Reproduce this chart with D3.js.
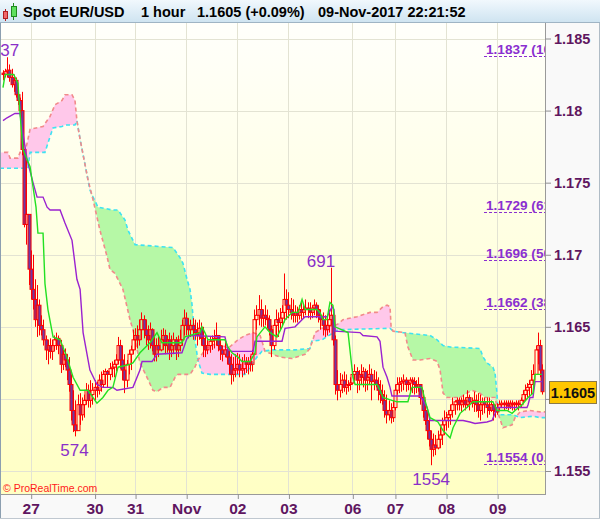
<!DOCTYPE html>
<html><head><meta charset="utf-8">
<script src="https://cdn.jsdelivr.net/npm/d3@7"></script>
<style>body{margin:0;background:#fff}svg{display:block}text{font-family:"Liberation Sans",Arial,sans-serif}</style>
</head><body><svg id="c" width="600" height="519"></svg>
<script>
// ---------- DATA ----------
const titleParts = ["Spot EUR/USD","1 hour","1.1605 (+0.09%)","09-Nov-2017 22:21:52"];
const dayTicks  = [13,43,62,86,110,134,164,184,208,232];
const dayLabels = ["27","30","31","Nov","02","03","06","07","08","09"];
const priceTicks = [1.155,1.16,1.165,1.17,1.175,1.18,1.185];
const priceTickLabels = ["1.155","1.16","1.165","1.17","1.175","1.18","1.185"];
const firstOpen = 1.1826;
const high = [1.1828,1.1829,1.1837,1.1832,1.1829,1.1825,1.1823,1.1816,1.1809,1.1813,
1.1773,1.1766,1.1728,1.1703,1.1700,1.1683,1.1679,1.1669,1.1658,1.1655,
1.1644,1.1641,1.1642,1.1641,1.1644,1.1646,1.1644,1.1641,1.1634,1.1635,
1.1631,1.1629,1.1617,1.1606,1.1599,1.1603,1.1604,1.1601,1.1603,1.1611,
1.1610,1.1613,1.1611,1.1613,1.1612,1.1617,1.1619,1.1620,1.1621,1.1620,
1.1625,1.1626,1.1627,1.1631,1.1643,1.1641,1.1637,1.1631,1.1627,1.1634,
1.1637,1.1648,1.1649,1.1651,1.1655,1.1660,1.1658,1.1655,1.1651,1.1653,
1.1649,1.1644,1.1642,1.1644,1.1648,1.1649,1.1648,1.1644,1.1646,1.1644,
1.1646,1.1643,1.1644,1.1648,1.1655,1.1662,1.1660,1.1656,1.1655,1.1656,
1.1655,1.1653,1.1655,1.1653,1.1650,1.1644,1.1641,1.1643,1.1644,1.1648,
1.1653,1.1644,1.1641,1.1637,1.1641,1.1637,1.1634,1.1631,1.1629,1.1631,
1.1632,1.1631,1.1629,1.1631,1.1629,1.1629,1.1630,1.1634,1.1662,1.1665,
1.1672,1.1669,1.1662,1.1665,1.1662,1.1658,1.1651,1.1655,1.1662,1.1660,
1.1663,1.1665,1.1687,1.1676,1.1674,1.1670,1.1669,1.1665,1.1664,1.1665,
1.1667,1.1665,1.1669,1.1667,1.1667,1.1665,1.1669,1.1667,1.1665,1.1662,
1.1660,1.1658,1.1656,1.1662,1.1691,1.1662,1.1644,1.1620,1.1618,1.1617,
1.1619,1.1617,1.1613,1.1615,1.1621,1.1624,1.1622,1.1620,1.1624,1.1622,
1.1621,1.1620,1.1624,1.1621,1.1620,1.1619,1.1615,1.1613,1.1610,1.1606,
1.1603,1.1599,1.1597,1.1599,1.1610,1.1615,1.1615,1.1615,1.1617,1.1615,
1.1613,1.1615,1.1615,1.1615,1.1613,1.1615,1.1610,1.1606,1.1599,1.1592,
1.1587,1.1578,1.1576,1.1575,1.1578,1.1582,1.1587,1.1592,1.1591,1.1592,
1.1596,1.1601,1.1599,1.1601,1.1601,1.1601,1.1603,1.1601,1.1606,1.1603,
1.1601,1.1605,1.1603,1.1604,1.1603,1.1601,1.1601,1.1601,1.1601,1.1599,
1.1597,1.1596,1.1597,1.1599,1.1599,1.1599,1.1599,1.1599,1.1599,1.1599,
1.1598,1.1599,1.1599,1.1601,1.1606,1.1610,1.1611,1.1613,1.1620,1.1624,
1.1637,1.1646,1.1641,1.1624];
const low = [1.1821,1.1823,1.1823,1.1820,1.1816,1.1813,1.1809,1.1804,1.1797,1.1769,
1.1719,1.1707,1.1679,1.1669,1.1662,1.1650,1.1643,1.1644,1.1644,1.1637,
1.1627,1.1624,1.1628,1.1627,1.1633,1.1634,1.1631,1.1618,1.1620,1.1622,
1.1613,1.1605,1.1585,1.1577,1.1574,1.1580,1.1582,1.1585,1.1587,1.1596,
1.1594,1.1594,1.1596,1.1599,1.1601,1.1603,1.1605,1.1608,1.1610,1.1608,
1.1613,1.1615,1.1615,1.1619,1.1624,1.1621,1.1613,1.1604,1.1608,1.1617,
1.1620,1.1631,1.1634,1.1635,1.1637,1.1641,1.1642,1.1637,1.1634,1.1635,
1.1633,1.1626,1.1626,1.1629,1.1633,1.1634,1.1631,1.1632,1.1627,1.1629,
1.1631,1.1627,1.1629,1.1633,1.1637,1.1644,1.1644,1.1642,1.1643,1.1641,
1.1641,1.1637,1.1641,1.1637,1.1629,1.1629,1.1631,1.1632,1.1634,1.1635,
1.1637,1.1633,1.1627,1.1626,1.1629,1.1624,1.1617,1.1610,1.1612,1.1615,
1.1617,1.1615,1.1615,1.1617,1.1618,1.1617,1.1619,1.1619,1.1631,1.1648,
1.1651,1.1650,1.1650,1.1651,1.1649,1.1644,1.1629,1.1634,1.1644,1.1643,
1.1648,1.1651,1.1653,1.1655,1.1656,1.1655,1.1653,1.1653,1.1653,1.1655,
1.1655,1.1656,1.1658,1.1656,1.1655,1.1656,1.1658,1.1656,1.1653,1.1648,
1.1644,1.1643,1.1644,1.1646,1.1651,1.1637,1.1603,1.1599,1.1601,1.1604,
1.1605,1.1603,1.1605,1.1606,1.1610,1.1611,1.1604,1.1606,1.1610,1.1608,
1.1605,1.1606,1.1610,1.1599,1.1606,1.1608,1.1599,1.1597,1.1596,1.1587,
1.1583,1.1585,1.1583,1.1584,1.1592,1.1603,1.1604,1.1605,1.1606,1.1605,
1.1606,1.1605,1.1604,1.1603,1.1604,1.1605,1.1596,1.1587,1.1582,1.1572,
1.1567,1.1554,1.1560,1.1561,1.1565,1.1566,1.1568,1.1575,1.1578,1.1580,
1.1582,1.1587,1.1589,1.1592,1.1592,1.1591,1.1594,1.1592,1.1594,1.1592,
1.1594,1.1591,1.1591,1.1587,1.1585,1.1589,1.1590,1.1587,1.1589,1.1591,
1.1585,1.1587,1.1589,1.1592,1.1594,1.1592,1.1593,1.1592,1.1593,1.1592,
1.1592,1.1594,1.1592,1.1594,1.1597,1.1599,1.1601,1.1601,1.1603,1.1605,
1.1617,1.1624,1.1615,1.1603];
const close = [1.1825,1.1827,1.1828,1.1823,1.1818,1.1821,1.1811,1.1807,1.1800,1.1773,
1.1721,1.1728,1.1690,1.1676,1.1669,1.1655,1.1665,1.1651,1.1648,1.1641,
1.1634,1.1637,1.1633,1.1637,1.1641,1.1642,1.1637,1.1624,1.1631,1.1627,
1.1620,1.1610,1.1592,1.1582,1.1578,1.1596,1.1589,1.1596,1.1599,1.1606,
1.1599,1.1603,1.1606,1.1608,1.1606,1.1613,1.1610,1.1617,1.1619,1.1617,
1.1621,1.1622,1.1624,1.1627,1.1637,1.1627,1.1620,1.1613,1.1624,1.1631,
1.1634,1.1641,1.1644,1.1641,1.1648,1.1655,1.1648,1.1644,1.1641,1.1648,
1.1637,1.1631,1.1637,1.1634,1.1641,1.1644,1.1637,1.1641,1.1634,1.1637,
1.1641,1.1634,1.1637,1.1641,1.1651,1.1656,1.1651,1.1648,1.1651,1.1648,
1.1646,1.1644,1.1649,1.1642,1.1637,1.1634,1.1637,1.1640,1.1641,1.1642,
1.1644,1.1637,1.1634,1.1631,1.1634,1.1629,1.1624,1.1617,1.1620,1.1621,
1.1624,1.1620,1.1621,1.1626,1.1624,1.1626,1.1624,1.1631,1.1655,1.1658,
1.1662,1.1656,1.1658,1.1656,1.1655,1.1648,1.1637,1.1651,1.1655,1.1653,
1.1656,1.1660,1.1669,1.1665,1.1662,1.1660,1.1658,1.1660,1.1658,1.1662,
1.1660,1.1662,1.1663,1.1662,1.1660,1.1663,1.1665,1.1662,1.1658,1.1655,
1.1651,1.1648,1.1651,1.1655,1.1658,1.1641,1.1610,1.1606,1.1610,1.1613,
1.1608,1.1610,1.1610,1.1611,1.1617,1.1619,1.1613,1.1617,1.1615,1.1619,
1.1613,1.1615,1.1617,1.1612,1.1613,1.1610,1.1606,1.1603,1.1599,1.1592,
1.1589,1.1592,1.1587,1.1594,1.1606,1.1610,1.1611,1.1612,1.1613,1.1610,
1.1611,1.1613,1.1612,1.1610,1.1608,1.1610,1.1601,1.1592,1.1585,1.1578,
1.1572,1.1565,1.1568,1.1566,1.1572,1.1575,1.1582,1.1585,1.1587,1.1589,
1.1592,1.1596,1.1598,1.1599,1.1596,1.1598,1.1599,1.1596,1.1601,1.1598,
1.1597,1.1599,1.1596,1.1592,1.1596,1.1598,1.1596,1.1594,1.1592,1.1596,
1.1592,1.1591,1.1594,1.1596,1.1597,1.1596,1.1597,1.1595,1.1597,1.1596,
1.1597,1.1597,1.1596,1.1599,1.1603,1.1606,1.1608,1.1610,1.1613,1.1617,
1.1634,1.1637,1.1620,1.1605];
// Ichimoku lines: [bar index, price]
const tenkan = [[0,1.1816],[1,1.1825],[5,1.1825],[7,1.1819],[8,1.1798],[9.4,1.1773],[12.7,1.1761],[14.1,1.1747],[15.5,1.1733],[16.4,1.1715],[18.8,1.1715],[19.7,1.1680],[21.1,1.1662],[23.5,1.1643],[26.8,1.1641],[30,1.1629],[32.9,1.1615],[36.2,1.1606],[39.9,1.1606],[44.1,1.1597],[46.9,1.1601],[49.3,1.1606],[51.6,1.1608],[54,1.1622],[59.6,1.1624],[61,1.1625],[64.3,1.1632],[69,1.1639],[72.3,1.1646],[74.6,1.1639],[84,1.1639],[85.4,1.1643],[92.5,1.1646],[93.4,1.1650],[94.8,1.1646],[96.2,1.1641],[104.2,1.1641],[105.6,1.1636],[107.5,1.1632],[110.3,1.1629],[112.2,1.1626],[116,1.1626],[118.3,1.1632],[119.2,1.1643],[123,1.1650],[125.4,1.1646],[128.6,1.1643],[131,1.1650],[132.4,1.1655],[135.7,1.1660],[138.5,1.1660],[140.4,1.1669],[141.8,1.1662],[147.4,1.1662],[148.8,1.1660],[150.2,1.1655],[152.1,1.1655],[153.5,1.1667],[154.9,1.1665],[155.9,1.1650],[162,1.1646],[164.3,1.1615],[165.3,1.1610],[175.6,1.1610],[177,1.1606],[178.4,1.1601],[182.6,1.1599],[185,1.1598],[190.1,1.1598],[192,1.1608],[196.7,1.1608],[198.1,1.1599],[200.5,1.1587],[204.2,1.1584],[206.6,1.1578],[209.9,1.1573],[211.3,1.1580],[214.6,1.1590],[217.8,1.1594],[219.2,1.1596],[220.7,1.1598],[230,1.1598],[231.9,1.1592],[236.6,1.1592],[239,1.1590],[240.4,1.1592],[243.7,1.1596],[246.5,1.1601],[248.8,1.1604],[249.8,1.1617],[253,1.1617]];
const kijun = [[0,1.1793],[1.9,1.1795],[5.6,1.1798],[8,1.1798],[9.4,1.1784],[11.3,1.1766],[14.1,1.1750],[16,1.1740],[18.8,1.1740],[20.7,1.1733],[22.1,1.1731],[26.8,1.1731],[29.1,1.1722],[32.4,1.1710],[34.7,1.1683],[36.2,1.1676],[37.6,1.1646],[40.8,1.1620],[44.1,1.1610],[46.9,1.1608],[51.6,1.1608],[53.5,1.1606],[61,1.1608],[64.3,1.1620],[65.3,1.1626],[70,1.1626],[72.3,1.1631],[84,1.1632],[86.4,1.1642],[87.8,1.1644],[104.2,1.1643],[105.6,1.1634],[107.5,1.1633],[117.4,1.1633],[118.3,1.1640],[131,1.1640],[132.4,1.1649],[137.1,1.1650],[141.8,1.1657],[152.1,1.1657],[154.5,1.1664],[155.4,1.1662],[155.9,1.1647],[167.6,1.1646],[169,1.1644],[175.6,1.1643],[177,1.1640],[178.4,1.1622],[180.3,1.1615],[181.7,1.1608],[182.6,1.1602],[195.8,1.1602],[197.2,1.1599],[199.1,1.1594],[200.5,1.1585],[216,1.1585],[219.2,1.1584],[221.6,1.1583],[227.2,1.1584],[229.6,1.1585],[231,1.1590],[231.9,1.1594],[246,1.1594],[246.5,1.1596],[247.4,1.1601],[248.8,1.1601],[249.8,1.1612],[253,1.1612]];
const spanA = [[-1.4,1.1771],[2.3,1.1771],[3.3,1.1767],[7,1.1767],[8,1.1771],[10.3,1.1771],[11.7,1.1780],[12.7,1.1787],[18.8,1.1789],[22.1,1.1796],[24.4,1.1804],[27.7,1.1807],[29.1,1.1811],[32.4,1.1811],[33.8,1.1807],[34.7,1.1793],[36.2,1.1780],[39.9,1.1752],[42.3,1.1738],[45.5,1.1717],[48.8,1.1699],[50.2,1.1690],[52.6,1.1687],[56.3,1.1676],[58.2,1.1664],[59.6,1.1655],[61,1.1648],[64.3,1.1625],[67.6,1.1615],[70.4,1.1606],[72.3,1.1605],[75.1,1.1608],[78.4,1.1608],[80.8,1.1615],[82.2,1.1617],[87.8,1.1617],[90.1,1.1622],[91.5,1.1627],[93.9,1.1632],[96.2,1.1636],[100.9,1.1639],[105.6,1.1635],[110.3,1.1641],[113.6,1.1644],[117.4,1.1646],[120.7,1.1644],[121.6,1.1640],[123,1.1633],[130,1.1629],[135.7,1.1628],[141.8,1.1631],[144.1,1.1635],[145.5,1.1641],[146.5,1.1646],[149.8,1.1649],[152.6,1.1650],[155.9,1.1651],[157.3,1.1652],[159.6,1.1655],[166.2,1.1657],[172.3,1.1660],[175.6,1.1660],[178.4,1.1664],[180.3,1.1665],[181.7,1.1664],[182.2,1.1650],[183.1,1.1647],[188.7,1.1646],[190.1,1.1636],[192.5,1.1627],[195.8,1.1627],[200.5,1.1628],[203.8,1.1626],[205.2,1.1620],[206.6,1.1604],[208.5,1.1601],[214.6,1.1601],[217.8,1.1604],[220.2,1.1606],[223.9,1.1604],[226.3,1.1601],[229.6,1.1601],[231,1.1601],[232.4,1.1590],[234.7,1.1580],[239,1.1582],[240.4,1.1587],[242.7,1.1591],[247.4,1.1592],[252.1,1.1591],[254.5,1.1591]];
const spanB = [[-1.4,1.1760],[11.7,1.1760],[12.7,1.1771],[19.7,1.1771],[22.1,1.1782],[23.5,1.1788],[27.7,1.1789],[29.1,1.1790],[33.8,1.1790],[34.7,1.1793],[36.2,1.1780],[39.9,1.1752],[40.8,1.1745],[42.3,1.1740],[44.6,1.1733],[51.6,1.1731],[54,1.1731],[57.3,1.1724],[58.7,1.1717],[62,1.1707],[79.8,1.1705],[83.1,1.1698],[84.5,1.1694],[86.4,1.1683],[87.8,1.1676],[88.7,1.1666],[90.1,1.1641],[91.5,1.1627],[93.4,1.1618],[97.2,1.1617],[113.6,1.1617],[117.4,1.1625],[119.2,1.1629],[121.6,1.1633],[126.3,1.1634],[137.1,1.1634],[144.1,1.1635],[145,1.1640],[149.8,1.1641],[157.3,1.1648],[181.7,1.1649],[183.1,1.1647],[187.8,1.1646],[200.5,1.1644],[203.8,1.1641],[206.6,1.1637],[209.9,1.1636],[223.9,1.1635],[225.4,1.1629],[227.2,1.1625],[230,1.1622],[231,1.1618],[231.9,1.1604],[232.4,1.1592],[233.3,1.1589],[239.4,1.1589],[242.7,1.1587],[248.8,1.1588],[252.1,1.1587],[254.5,1.1587]];
const fibLevels = [1.1837,1.1729,1.1696,1.1662,1.1554];
const fibLabels = ["1.1837 (100.0%)","1.1729 (61.8%)","1.1696 (50.0%)","1.1662 (38.2%)","1.1554 (0.0%)"];
const extremes = [{i:2,text:"1837",kind:"high",dx:-7},{i:34,text:"574",kind:"low",dx:-1},{i:154,text:"691",kind:"high",dx:-10},{i:201,text:"1554",kind:"low",dx:0}];
const lastPrice = 1.1605;
const lastPriceLabel = "1.1605";
const watermark = "© ProRealTime.com";

// ---------- DRAW ----------
const P = {l:1, t:23, r:545, b:494};
const svg = d3.select("#c");
const defs = svg.append("defs");
function grad(id, c0, c1){
  const g = defs.append("linearGradient").attr("id",id).attr("x1",0).attr("y1",0).attr("x2",0).attr("y2",1);
  g.append("stop").attr("offset","0%").attr("stop-color",c0);
  g.append("stop").attr("offset","100%").attr("stop-color",c1);
}
grad("bg","#fffffb","#ffffc4");
grad("tg","#f1f8fd","#cfe4f1");
defs.append("clipPath").attr("id","plotclip").append("rect").attr("x",P.l).attr("y",P.t).attr("width",P.r-P.l).attr("height",P.b-P.t);

const x = d3.scaleLinear().domain([0,253]).range([3,541.9]);
const y = d3.scaleLinear().domain([1.155,1.185]).range([471,38.5]);

svg.append("rect").attr("width",600).attr("height",519).attr("fill","#f9f9f9");
svg.append("rect").attr("x",P.l).attr("y",P.t).attr("width",P.r-P.l).attr("height",P.b-P.t).attr("fill","url(#bg)");

const plot = svg.append("g").attr("clip-path","url(#plotclip)");
// grid
plot.selectAll("line.hg").data(priceTicks).join("line")
  .attr("x1",P.l).attr("x2",P.r).attr("y1",d=>Math.round(y(d))+0.5).attr("y2",d=>Math.round(y(d))+0.5)
  .attr("stroke","#e3e3d3").attr("stroke-width",1);
plot.selectAll("line.vg").data(dayTicks).join("line")
  .attr("y1",P.t).attr("y2",P.b).attr("x1",d=>Math.round(x(d))+0.5).attr("x2",d=>Math.round(x(d))+0.5)
  .attr("stroke","#e3e3d3").attr("stroke-width",1);

// cloud fills
const toTop = d3.area().x(d=>x(d[0])).y0(0).y1(d=>y(d[1]));
const toBot = d3.area().x(d=>x(d[0])).y0(d=>y(d[1])).y1(600);
defs.append("clipPath").attr("id","belowB").append("path").attr("d",toBot(spanB));
defs.append("clipPath").attr("id","belowA").append("path").attr("d",toBot(spanA));
plot.append("g").attr("clip-path","url(#belowB)").append("path").attr("d",toTop(spanA)).attr("fill","#b6f8a6");
plot.append("g").attr("clip-path","url(#belowA)").append("path").attr("d",toTop(spanB)).attr("fill","#ffc8ea");

const line = d3.line().x(d=>x(d[0])).y(d=>y(d[1]));
plot.append("path").attr("d",line(spanB)).attr("fill","none").attr("stroke","#3de3f2").attr("stroke-width",1.6).attr("stroke-dasharray","4,3");
plot.append("path").attr("d",line(spanA)).attr("fill","none").attr("stroke","#f28a8a").attr("stroke-width",1.6).attr("stroke-dasharray","4,3").attr("stroke-dashoffset",3);

// candles
const bars = close.map((c,i)=>{
  const o = i===0 ? firstOpen : close[i-1];
  return {i, o, c, h:Math.max(high[i],o,c), l:Math.min(low[i],o,c)};
});
const cg = plot.append("g");
bars.forEach(d=>{
  const cx = Math.round(x(d.i))+0.5;
  const top = y(Math.max(d.o,d.c)), bot = y(Math.min(d.o,d.c));
  cg.append("line").attr("x1",cx).attr("x2",cx).attr("y1",y(d.h)).attr("y2",top).attr("stroke","#ff0000").attr("stroke-width",1);
  cg.append("line").attr("x1",cx).attr("x2",cx).attr("y1",bot).attr("y2",y(d.l)).attr("stroke","#ff0000").attr("stroke-width",1);
  cg.append("rect").attr("x",cx-1.5).attr("y",top).attr("width",3).attr("height",Math.max(1,bot-top))
    .attr("fill", d.c<d.o ? "#6a3aa6" : "none").attr("stroke","#ff0000").attr("stroke-width",1);
});

plot.append("path").attr("d",line(kijun)).attr("fill","none").attr("stroke","#9a22d0").attr("stroke-width",1.4);
plot.append("path").attr("d",line(tenkan)).attr("fill","none").attr("stroke","#22e022").attr("stroke-width",1.4);

// fib levels (labels run past the plot edge and are clipped, as in the source)
const fg = plot.append("g");
fibLevels.forEach((v,k)=>{
  const yy = Math.round(y(v))-0.5;
  fg.append("line").attr("x1",484).attr("x2",P.r).attr("y1",yy).attr("y2",yy).attr("stroke","#8a2fd0").attr("stroke-width",1).attr("stroke-dasharray","3,2");
  fg.append("text").attr("x",486).attr("y",yy-2.5).text(fibLabels[k]).attr("font-size","13.6px").attr("font-weight","bold").attr("fill","#8a2fd0");
});

// extreme labels
extremes.forEach(e=>{
  const yy = e.kind==="high" ? y(high[e.i])-1 : y(low[e.i])+20;
  plot.append("text").attr("x",x(e.i)+e.dx).attr("y",yy).attr("text-anchor","middle").text(e.text)
    .attr("font-size","17px").attr("fill","#8a2fc8");
});

plot.append("text").attr("x",3).attr("y",492).text(watermark).attr("font-size","10.5px").attr("fill","#ff1a1a");

// borders
svg.append("line").attr("x1",P.r+0.5).attr("x2",P.r+0.5).attr("y1",P.t).attr("y2",P.b+1).attr("stroke","#9a9a9a");
svg.append("line").attr("x1",0).attr("x2",P.r+1).attr("y1",P.b+0.5).attr("y2",P.b+0.5).attr("stroke","#9a9a9a");
svg.append("line").attr("x1",0.5).attr("x2",0.5).attr("y1",0).attr("y2",519).attr("stroke","#8c9fb0");
svg.append("line").attr("x1",599.5).attr("x2",599.5).attr("y1",0).attr("y2",519).attr("stroke","#b0bcc6");
svg.append("line").attr("x1",0).attr("x2",600).attr("y1",518.5).attr("y2",518.5).attr("stroke","#c0c8d0");

// axes
const axisColor = "#5f1660";
const ay = svg.append("g").attr("transform",`translate(${P.r},0)`)
  .call(d3.axisRight(y).tickValues(priceTicks).tickFormat((d,i)=>priceTickLabels[i]).tickSize(6).tickPadding(3));
ay.select(".domain").remove();
ay.selectAll("line").attr("stroke","#909090");
ay.selectAll("text").attr("fill",axisColor).attr("font-size","14.5px").attr("font-weight","bold").attr("font-family",'"Liberation Sans",Arial,sans-serif');

const ax = svg.append("g").attr("transform",`translate(0,${P.b})`)
  .call(d3.axisBottom(x).tickValues(dayTicks).tickFormat((d,i)=>dayLabels[i]).tickSize(5).tickPadding(4));
ax.select(".domain").remove();
ax.selectAll("line").attr("stroke","#909090").attr("transform","translate(0.5,0)");
ax.selectAll("text").attr("fill",axisColor).attr("font-size","15.5px").attr("font-weight","bold").attr("font-family",'"Liberation Sans",Arial,sans-serif');

// last price box
const ly = y(lastPrice);
svg.append("rect").attr("x",549.5).attr("y",Math.round(ly)-10.5).attr("width",47).attr("height",22).attr("fill","#ffc700").attr("stroke","#8a7a4a");
svg.append("text").attr("x",573).attr("y",Math.round(ly)+5.5).attr("text-anchor","middle").text(lastPriceLabel)
  .attr("font-size","14.5px").attr("font-weight","bold").attr("fill","#111");

// title bar
svg.append("rect").attr("x",0).attr("y",0).attr("width",600).attr("height",22).attr("fill","url(#tg)");
svg.append("line").attr("x1",0).attr("x2",600).attr("y1",22.5).attr("y2",22.5).attr("stroke","#9fb4c4");
svg.append("line").attr("x1",5.5).attr("x2",5.5).attr("y1",9).attr("y2",21).attr("stroke","#b02020");
svg.append("rect").attr("x",3.5).attr("y",11.5).attr("width",4).attr("height",7).attr("fill","#f06a6a").attr("stroke","#b02020");
svg.append("line").attr("x1",13.5).attr("x2",13.5).attr("y1",3).attr("y2",20).attr("stroke","#208a20");
svg.append("rect").attr("x",11.5).attr("y",6.5).attr("width",5).attr("height",10).attr("fill","#5ee05e").attr("stroke","#208a20");
const tx = [23,141,197,318];
titleParts.forEach((t,k)=>{
  svg.append("text").attr("x",tx[k]).attr("y",17).text(t).attr("font-size","14.5px").attr("font-weight","bold").attr("fill","#000");
});
</script></body></html>
